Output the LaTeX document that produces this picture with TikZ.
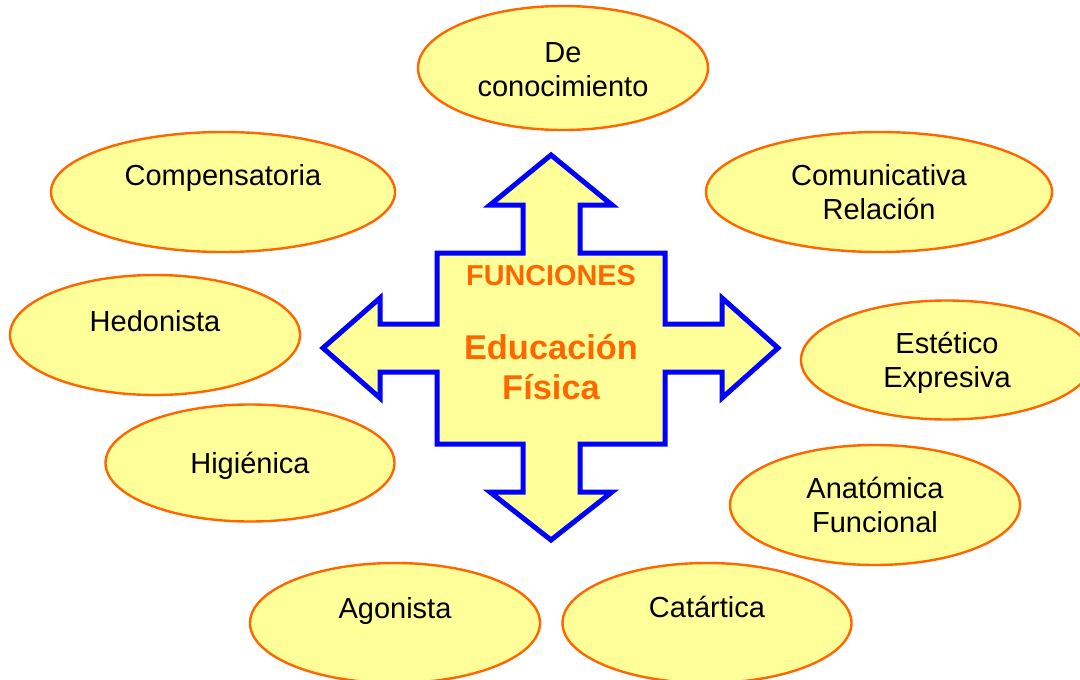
\documentclass[tikz,border=0pt]{standalone}
\usepackage{fontspec}
\setmainfont{Liberation Sans}
\usetikzlibrary{shapes.geometric}
\definecolor{lyel}{HTML}{FFFF99}
\definecolor{orng}{HTML}{FF6600}
\definecolor{blu}{HTML}{0000FF}
\begin{document}
\begin{tikzpicture}[x=1pt,y=-1pt,
  oval/.style={ellipse, draw=orng, line width=2.4pt, fill=lyel, inner sep=0pt},
  lbl/.style={anchor=base, align=center, font=\fontsize{29}{34}\selectfont, text=black, inner sep=0pt},
  ttl/.style={anchor=base, align=center, font=\fontsize{28.8}{34}\selectfont\bfseries, text=orng, inner sep=0pt}
]
\useasboundingbox (0,0) rectangle (1080,680);
\fill[white] (0,0) rectangle (1080,680);
\begin{scope}
\clip (0,0) rectangle (1080,680);
% ellipses
\node[oval, minimum width=290pt, minimum height=124pt] (conoc) at (563,68) {};
\node[oval, minimum width=344pt, minimum height=120pt] (comp) at (223,192) {};
\node[oval, minimum width=346pt, minimum height=120pt] (comu) at (879,192) {};
\node[oval, minimum width=290pt, minimum height=120pt] (hedo) at (155,335) {};
\node[oval, minimum width=292pt, minimum height=119pt] (este) at (947,360) {};
\node[oval, minimum width=289pt, minimum height=117pt] (higi) at (250,463) {};
\node[oval, minimum width=290pt, minimum height=120pt] (anat) at (875,505) {};
\node[oval, minimum width=290pt, minimum height=120pt] (agon) at (395,623) {};
\node[oval, minimum width=289pt, minimum height=120pt] (cata) at (707,623) {};
\end{scope}
% labels (two-line nodes: base = last line baseline)
\node[lbl] (conocT) at (563,96) {De\\conocimiento};
\node[lbl] (compT) at (223,185) {Compensatoria};
\node[lbl] (comuT) at (879,219) {Comunicativa\\Relación};
\node[lbl] (hedoT) at (155,331) {Hedonista};
\node[lbl] (esteT) at (947,387) {Estético\\Expresiva};
\node[lbl] (higiT) at (250,473) {Higiénica};
\node[lbl] (anatT) at (875,532) {Anatómica\\Funcional};
\node[lbl] (agonT) at (395,618) {Agonista};
\node[lbl] (cataT) at (707,617) {Catártica};
% cross
\draw[blu, line width=5pt, fill=lyel, line join=miter, miter limit=10]
 (551,155) -- (612,205) -- (580,205) -- (580,253) -- (665,253) -- (665,324)
 -- (722,324) -- (722,298) -- (778,348) -- (722,398) -- (722,372) -- (665,372)
 -- (665,444) -- (580,444) -- (580,492) -- (612,492) -- (551,540) -- (490,492)
 -- (523,492) -- (523,444) -- (437,444) -- (437,372) -- (380,372) -- (380,398)
 -- (323,348) -- (380,298) -- (380,324) -- (437,324) -- (437,253) -- (523,253)
 -- (523,205) -- (490,205) -- cycle;
\node[ttl] (func) at (551,285) {FUNCIONES};
\node[ttl, font=\fontsize{34.4}{40}\selectfont\bfseries] (edfis) at (551,399) {Educación\\Física};
\end{tikzpicture}
\end{document}
